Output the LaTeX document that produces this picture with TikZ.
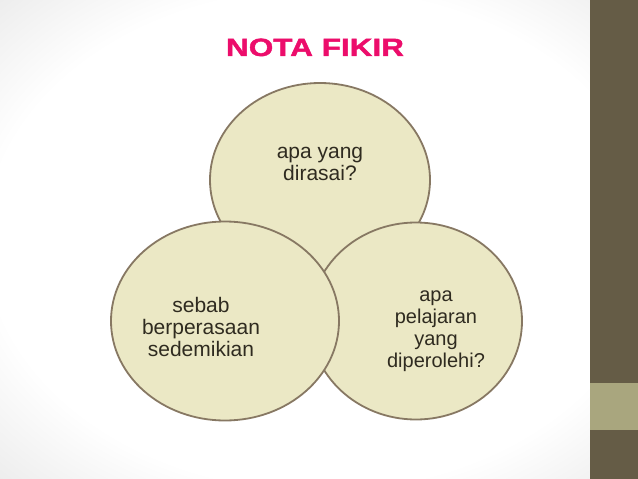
\documentclass[tikz,border=0pt]{standalone}
\usepackage{fontspec}
\setmainfont{Liberation Sans}
\newfontfamily\titlefont[FakeBold=1.5]{Liberation Sans Bold}
\usetikzlibrary{shapes.geometric}
\definecolor{fillc}{HTML}{EBE8C5}
\definecolor{edgec}{HTML}{877863}
\definecolor{textc}{HTML}{2F2B20}
\definecolor{titlec}{HTML}{EC0D6B}
\definecolor{barc}{HTML}{655C46}
\definecolor{blockc}{HTML}{A9A67E}
\pgfdeclareradialshading{bgshade}{\pgfpoint{0bp}{0bp}}{color(0bp)=(white); color(26bp)=(white); color(38bp)=(black!9); color(50bp)=(black!9)}
\begin{document}
\begin{tikzpicture}[x=1pt,y=-1pt,
  bubble/.style={ellipse, draw=edgec, fill=fillc, line width=1.8pt, inner sep=0pt},
  bubbletext/.style={align=center, inner sep=0pt, text=textc, font=\fontsize{21}{22}\selectfont},
  bubbletextsmall/.style={bubbletext, font=\fontsize{20}{21.7}\selectfont}]
\useasboundingbox (0,0) rectangle (638,479);
\shade[shading=bgshade] (0,0) rectangle (638,479);
\fill[barc] (590,0) rectangle (638,479);
\fill[blockc] (590,383) rectangle (638,430);
\node[anchor=base, text=titlec, font=\fontsize{25}{30}\selectfont\titlefont, inner sep=0pt] (title) at (315,56) {\scalebox{1.26}[1]{NOTA FIKIR}};
\node[bubble, minimum width=220pt, minimum height=194pt] (top) at (320,180) {};
\node[bubble, minimum width=212pt, minimum height=197pt] (right) at (416,321) {};
\node[bubble, minimum width=228pt, minimum height=199pt] (left) at (225,321) {};
\node[bubbletext] (toptext) at (320,165.1) {\strut apa yang\\dirasai?\strut};
\node[bubbletext] (lefttext) at (201,329.6) {\strut sebab\\berperasaan\\sedemikian\strut};
\node[bubbletextsmall] (righttext) at (436,330.2) {\strut apa\\pelajaran\\yang\\diperolehi?\strut};
\end{tikzpicture}
\end{document}
